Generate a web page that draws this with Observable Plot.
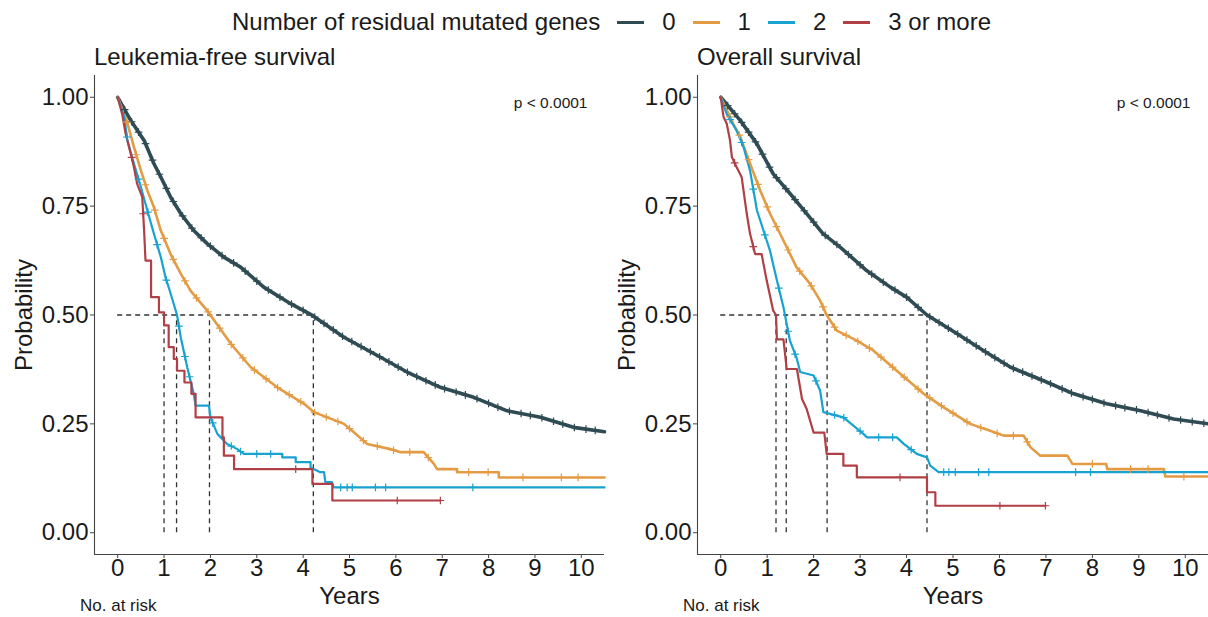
<!DOCTYPE html>
<html><head><meta charset="utf-8">
<script src="https://cdn.jsdelivr.net/npm/d3@7"></script>
<script src="https://cdn.jsdelivr.net/npm/@observablehq/plot@0.6"></script>
<style>
body{margin:0;background:#fff;font-family:"Liberation Sans",Arial,sans-serif;color:#1a1a1a;width:1208px;height:617px;overflow:hidden;position:relative}
#legend{position:absolute;left:232px;top:8px;height:28px;display:flex;align-items:center;font-size:24px;line-height:28px;white-space:nowrap}
.key{display:inline-block;width:27px;height:3px;margin-left:17px;margin-right:18px}
.title{position:absolute;top:44px;font-size:24px;line-height:26px;white-space:nowrap}
.risk{position:absolute;top:596px;font-size:17px;line-height:20px;white-space:nowrap}
.panel{position:absolute;top:70px}
</style></head><body>
<div id="legend"></div>
<div class="title" style="left:94px">Leukemia-free survival</div>
<div class="title" style="left:697px">Overall survival</div>
<div class="panel" id="left" style="left:0px"></div>
<div class="panel" id="right" style="left:604px"></div>
<div class="risk" style="left:80px">No. at risk</div>
<div class="risk" style="left:683px">No. at risk</div>
<script>
const legendTitle = "Number of residual mutated genes";
const groups = ["0", "1", "2", "3 or more"];
const colors = ["#2f4b53", "#e39b44", "#18a2d0", "#b03f46"];
const xTicks = [0, 1, 2, 3, 4, 5, 6, 7, 8, 9, 10];
const yTicks = [0, 0.25, 0.5, 0.75, 1];
const pText = "p < 0.0001";

// Leukemia-free survival curves (years, probability)
const lfs0T = [0, 0.28, 0.57, 0.78, 0.93, 1.14, 1.36, 1.64, 1.93, 2.29, 2.65, 3.15, 3.73, 4.2, 4.88, 5.67, 6.24, 6.96, 7.68, 8.4, 9.12, 9.83, 10.5];
const lfs0S = [1, 0.947, 0.901, 0.848, 0.817, 0.771, 0.733, 0.694, 0.664, 0.633, 0.61, 0.564, 0.526, 0.499, 0.449, 0.403, 0.369, 0.334, 0.311, 0.28, 0.265, 0.242, 0.232];
const lfs1T = [0, 0.21, 0.35, 0.5, 0.64, 0.78, 0.93, 1.14, 1.36, 1.57, 1.93, 2.0, 2.44, 2.87, 3.44, 4.02, 4.23, 4.88, 5.1, 5.38, 5.88, 6.1, 6.6, 6.82, 6.89, 7.32, 7.32, 8.22, 8.22, 10.5];
const lfs1S = [1, 0.94, 0.886, 0.832, 0.786, 0.748, 0.694, 0.64, 0.595, 0.556, 0.51, 0.5, 0.434, 0.38, 0.334, 0.296, 0.277, 0.25, 0.23, 0.204, 0.192, 0.185, 0.185, 0.158, 0.146, 0.146, 0.139, 0.139, 0.127, 0.127];
const lfs2T = [0, 0.14, 0.21, 0.35, 0.5, 0.64, 0.78, 0.93, 1.03, 1.14, 1.28, 1.36, 1.5, 1.64, 1.68, 1.97, 2.0, 2.15, 2.36, 2.58, 2.72, 3.55, 3.55, 3.84, 3.84, 4.16, 4.16, 4.37, 4.45, 4.48, 4.62, 4.66, 10.5];
const lfs2S = [1, 0.955, 0.901, 0.848, 0.794, 0.74, 0.687, 0.633, 0.587, 0.55, 0.5, 0.449, 0.38, 0.319, 0.292, 0.292, 0.265, 0.227, 0.204, 0.192, 0.181, 0.181, 0.173, 0.173, 0.162, 0.162, 0.15, 0.139, 0.139, 0.116, 0.116, 0.104, 0.104];
const lfs3T = [0, 0.1, 0.17, 0.28, 0.35, 0.42, 0.53, 0.57, 0.6, 0.72, 0.72, 0.89, 0.89, 1.0, 1.0, 1.1, 1.1, 1.21, 1.21, 1.28, 1.28, 1.44, 1.44, 1.59, 1.59, 1.68, 1.68, 2.26, 2.26, 2.29, 2.29, 2.51, 2.51, 4.2, 4.2, 4.63, 4.63, 6.96];
const lfs3S = [1, 0.96, 0.917, 0.871, 0.84, 0.801, 0.771, 0.694, 0.625, 0.625, 0.541, 0.541, 0.506, 0.506, 0.476, 0.476, 0.426, 0.426, 0.399, 0.399, 0.372, 0.372, 0.345, 0.345, 0.319, 0.319, 0.265, 0.265, 0.219, 0.219, 0.177, 0.177, 0.146, 0.146, 0.112, 0.112, 0.074, 0.074];

// Overall survival curves
const os0T = [0, 0.42, 0.78, 1.13, 1.49, 1.85, 2.2, 2.57, 3.14, 3.65, 4.0, 4.44, 5.09, 5.66, 6.24, 6.95, 7.6, 8.31, 9.04, 9.75, 10.5];
const os0S = [1, 0.947, 0.893, 0.824, 0.779, 0.733, 0.687, 0.656, 0.602, 0.564, 0.541, 0.5, 0.457, 0.418, 0.38, 0.349, 0.319, 0.296, 0.28, 0.261, 0.25];
const os1T = [0, 0.27, 0.42, 0.63, 0.85, 1.06, 1.35, 1.63, 1.92, 2.14, 2.28, 2.5, 2.93, 3.29, 3.79, 4.37, 4.8, 5.37, 5.8, 6.09, 6.52, 6.67, 6.88, 7.46, 7.57, 8.3, 8.32, 9.54, 9.57, 10.5];
const os1S = [1, 0.939, 0.909, 0.848, 0.786, 0.733, 0.671, 0.61, 0.572, 0.533, 0.5, 0.464, 0.441, 0.418, 0.372, 0.319, 0.288, 0.25, 0.234, 0.223, 0.223, 0.196, 0.177, 0.177, 0.158, 0.158, 0.146, 0.146, 0.129, 0.129];
const os2T = [0, 0.13, 0.34, 0.49, 0.63, 0.78, 0.92, 1.06, 1.21, 1.35, 1.42, 1.49, 1.64, 1.71, 2.0, 2.14, 2.21, 2.64, 3.07, 3.15, 3.79, 3.94, 4.22, 4.44, 4.51, 4.69, 10.5];
const os2S = [1, 0.961, 0.924, 0.886, 0.832, 0.74, 0.694, 0.648, 0.579, 0.518, 0.479, 0.441, 0.399, 0.369, 0.361, 0.326, 0.277, 0.265, 0.227, 0.219, 0.219, 0.204, 0.181, 0.173, 0.154, 0.139, 0.139];
const os3T = [0, 0.06, 0.13, 0.2, 0.24, 0.34, 0.45, 0.56, 0.63, 0.74, 0.88, 0.99, 1.13, 1.19, 1.21, 1.35, 1.42, 1.64, 1.75, 1.85, 2.0, 2.23, 2.28, 2.64, 2.64, 2.93, 2.93, 4.44, 4.44, 4.62, 4.62, 6.99];
const os3S = [1, 0.955, 0.939, 0.901, 0.863, 0.84, 0.817, 0.733, 0.687, 0.64, 0.64, 0.579, 0.51, 0.5, 0.444, 0.444, 0.376, 0.376, 0.307, 0.284, 0.23, 0.23, 0.181, 0.181, 0.154, 0.154, 0.127, 0.127, 0.093, 0.093, 0.062, 0.062];

// Censoring times
const lfsCens0 = [0.15, 0.3, 0.45, 0.6, 0.75, 0.9, 1.05, 1.2, 1.4, 1.6, 1.8, 2.0, 2.25, 2.5, 2.75, 3.0, 3.25, 3.5, 3.75, 4.0, 4.25, 4.45, 4.65, 4.85, 5.05, 5.25, 5.45, 5.65, 5.85, 6.05, 6.25, 6.45, 6.65, 6.85, 7.05, 7.3, 7.5, 7.75, 8.0, 8.2, 8.45, 8.7, 8.9, 9.15, 9.4, 9.6, 9.85, 10.1, 10.3];
const lfsCens1 = [0.2, 0.4, 0.6, 0.8, 1.0, 1.2, 1.45, 1.7, 1.95, 2.2, 2.45, 2.7, 2.95, 3.2, 3.45, 3.7, 3.95, 4.25, 4.5, 4.75, 5.0, 5.3, 5.6, 5.95, 6.3, 6.7, 7.57, 7.99, 8.74, 9.57, 9.93];
const lfsCens2 = [0.2, 0.45, 0.65, 0.85, 1.05, 1.32, 1.45, 1.55, 2.05, 2.45, 2.65, 3.0, 3.3, 4.81, 4.95, 5.06, 5.56, 5.78, 7.66];
const lfsCens3 = [0.3, 0.55, 3.84, 6.03, 6.96];
const osCens0 = [0.15, 0.3, 0.45, 0.6, 0.75, 0.9, 1.05, 1.2, 1.4, 1.6, 1.8, 2.0, 2.25, 2.5, 2.75, 3.0, 3.25, 3.5, 3.75, 4.0, 4.25, 4.5, 4.7, 4.9, 5.1, 5.3, 5.5, 5.7, 5.9, 6.1, 6.3, 6.5, 6.7, 6.9, 7.1, 7.35, 7.55, 7.8, 8.0, 8.25, 8.5, 8.7, 8.95, 9.2, 9.4, 9.65, 9.9, 10.15, 10.4];
const osCens1 = [0.2, 0.4, 0.6, 0.8, 1.0, 1.2, 1.45, 1.7, 1.95, 2.2, 2.45, 2.7, 2.95, 3.2, 3.45, 3.7, 3.95, 4.25, 4.5, 4.75, 5.0, 5.3, 5.6, 5.95, 6.3, 6.6, 8.0, 8.82, 9.2, 9.97];
const osCens2 = [0.2, 0.45, 0.7, 0.95, 1.25, 1.45, 1.6, 2.05, 2.45, 2.65, 3.0, 3.4, 3.7, 4.1, 4.8, 4.91, 5.05, 5.55, 5.77, 7.64, 7.96];
const osCens3 = [0.3, 0.7, 3.86, 6.01, 6.99];

// Median survival times
const lfsMedians = [1.0, 1.27, 1.98, 4.22];
const osMedians = [1.19, 1.41, 2.29, 4.44];

function rows(T, S, g) { return T.map((t, i) => ({group: g, t, s: S[i]})); }
function valueAt(T, S, t) {
  let i = 0;
  for (let k = 0; k < T.length; k++) if (T[k] <= t) i = k;
  if (i + 1 < T.length && T[i + 1] > T[i]) {
    const f = (t - T[i]) / (T[i + 1] - T[i]);
    return S[i] + f * (S[i + 1] - S[i]);
  }
  return S[i];
}
function censRows(C, T, S, g) { return C.map(t => ({group: g, t, s: valueAt(T, S, t)})); }

// Legend
const leg = document.getElementById("legend");
const lt = document.createElement("span"); lt.textContent = legendTitle; leg.appendChild(lt);
groups.forEach((g, i) => {
  const k = document.createElement("span"); k.className = "key"; k.style.background = colors[i]; leg.appendChild(k);
  const l = document.createElement("span"); l.textContent = g; leg.appendChild(l);
});

const widths = [3.6, 2.6, 2.2, 2.2];

function panel(series, cens, medians, marginLeft, pdx) {
  const lineMarks = series.map((d, i) => Plot.line(d, {x: "t", y: "s", stroke: colors[i], strokeWidth: widths[i], strokeLinejoin: "round"}));
  const censMarks = cens.map((d, i) => Plot.dot(d, {x: "t", y: "s", symbol: "plus", r: 2.6, stroke: colors[i], strokeWidth: 1.2}));
  return Plot.plot({
    width: 604, height: 547,
    marginTop: 5, marginBottom: 63, marginLeft, marginRight: 0,
    style: {fontFamily: "Liberation Sans, Arial, sans-serif", fontSize: "24px", color: "#1a1a1a", background: "transparent", overflow: "visible"},
    x: {domain: [-0.5, 10.5]},
    y: {domain: [-0.05, 1.05]},
    marks: [
      Plot.ruleY([0.5], {x1: 0, x2: d3.max(medians), stroke: "#333", strokeWidth: 1.3, strokeDasharray: "5,4"}),
      Plot.ruleX(medians, {x: d => d, y1: 0, y2: 0.5, stroke: "#333", strokeWidth: 1.3, strokeDasharray: "5,4"}),
      ...lineMarks,
      ...censMarks,
      Plot.ruleX([-0.5], {stroke: "#444", strokeWidth: 1.1}),
      Plot.ruleY([-0.05], {stroke: "#444", strokeWidth: 1.1}),
      Plot.axisX({ticks: xTicks, tickSize: 4, tickPadding: 0, label: "Years", labelAnchor: "center", labelArrow: "none", labelOffset: 49, stroke: "#444"}),
      Plot.axisY({ticks: yTicks, tickFormat: d3.format(".2f"), tickSize: 4, tickPadding: 2, label: "Probability", labelAnchor: "center", labelArrow: "none", labelOffset: 80, stroke: "#444"}),
      Plot.text([pText], {frameAnchor: "top-right", textAnchor: "end", lineAnchor: "middle", dx: pdx, dy: 28, fontSize: 15.5, fill: "#1a1a1a"})
    ]
  });
}

const lfsSeries = [rows(lfs0T, lfs0S, groups[0]), rows(lfs1T, lfs1S, groups[1]), rows(lfs2T, lfs2S, groups[2]), rows(lfs3T, lfs3S, groups[3])];
const lfsCens = [censRows(lfsCens0, lfs0T, lfs0S, groups[0]), censRows(lfsCens1, lfs1T, lfs1S, groups[1]), censRows(lfsCens2, lfs2T, lfs2S, groups[2]), censRows(lfsCens3, lfs3T, lfs3S, groups[3])];
const osSeries = [rows(os0T, os0S, groups[0]), rows(os1T, os1S, groups[1]), rows(os2T, os2S, groups[2]), rows(os3T, os3S, groups[3])];
const osCens = [censRows(osCens0, os0T, os0S, groups[0]), censRows(osCens1, os1T, os1S, groups[1]), censRows(osCens2, os2T, os2S, groups[2]), censRows(osCens3, os3T, os3S, groups[3])];

document.getElementById("left").appendChild(panel(lfsSeries, lfsCens, lfsMedians, 94, -17));
document.getElementById("right").appendChild(panel(osSeries, osCens, osMedians, 93, -18));
</script>
</body></html>
